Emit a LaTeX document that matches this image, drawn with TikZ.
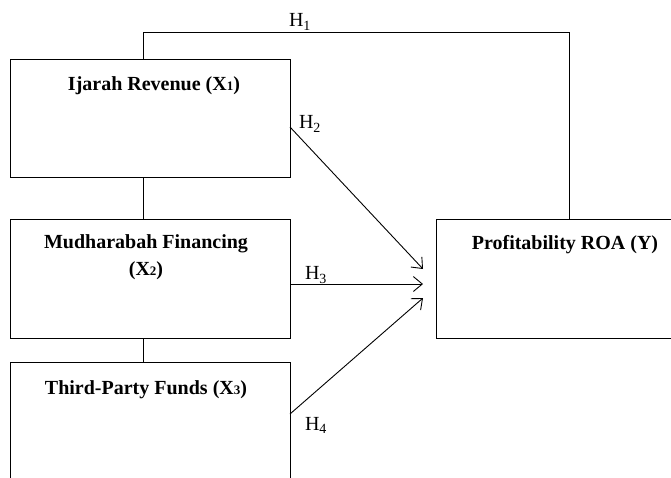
\documentclass[tikz,border=0pt]{standalone}
\usepackage{fontspec}
\setmainfont{Liberation Serif}
\usetikzlibrary{arrows.meta}
\newcommand{\smd}[1]{{\fontsize{13}{13}\selectfont #1}}
\begin{document}
\begin{tikzpicture}[x=1pt,y=-1pt,
  box/.style={draw,line width=0.9pt,inner sep=0pt,outer sep=0pt,anchor=north west},
  ttl/.style={font=\fontsize{20}{27}\selectfont\bfseries,inner sep=0pt,align=center},
  hlab/.style={font=\fontsize{20}{20}\selectfont,inner sep=0pt},
  conn/.style={line width=0.9pt},
  arr/.style={line width=0.9pt,-{Straight Barb[length=9pt,width=15pt,line width=0.9pt]}}]
\useasboundingbox (0,0) rectangle (671,477);
\clip (0,0) rectangle (671,477);
\fill[white] (0,0) rectangle (671,477);
% boxes
\node[box,minimum width=280pt,minimum height=118pt] (x1) at (10,59) {};
\node[box,minimum width=280pt,minimum height=119pt] (x2) at (10,219) {};
\node[box,minimum width=280pt,minimum height=160pt] (x3) at (10,362) {};
\node[box,minimum width=280pt,minimum height=119pt] (y) at (436,219) {};
% titles
\node[ttl] (t1) at (154,86) {Ijarah Revenue (X\smd{1})};
\node[ttl] (t2) at (146,257) {Mudharabah Financing\\(X\smd{2})};
\node[ttl] (t3) at (146,390) {Third-Party Funds (X\smd{3})};
\node[ttl] (ty) at (565,245) {Profitability ROA (Y)};
% H1 path
\coordinate (h1a) at (143,32);
\coordinate (h1b) at (569,32);
\draw[conn] (x1.north -| h1a) -- (h1a) -- (h1b) -- (y.north -| h1b);
% vertical links
\coordinate (vc) at (143,0);
\draw[conn] (x1.south -| vc) -- (x2.north -| vc);
\draw[conn] (x2.south -| vc) -- (x3.north -| vc);
% arrows
\coordinate (e2) at (423,269);
\coordinate (e3) at (423,284);
\coordinate (e4) at (423,298);
\draw[arr] ([yshift=-9pt]x1.east) -- (e2);
\draw[arr] ([yshift=-5.5pt]x2.east) -- (e3);
\draw[arr] ([yshift=28pt]x3.east) -- (e4);
% labels
\node[hlab] (h1) at (300,22) {H\textsubscript{1}};
\node[hlab] (h2) at (310,124) {H\textsubscript{2}};
\node[hlab] (h3) at (316,275) {H\textsubscript{3}};
\node[hlab] (h4) at (316,425) {H\textsubscript{4}};
\end{tikzpicture}
\end{document}
